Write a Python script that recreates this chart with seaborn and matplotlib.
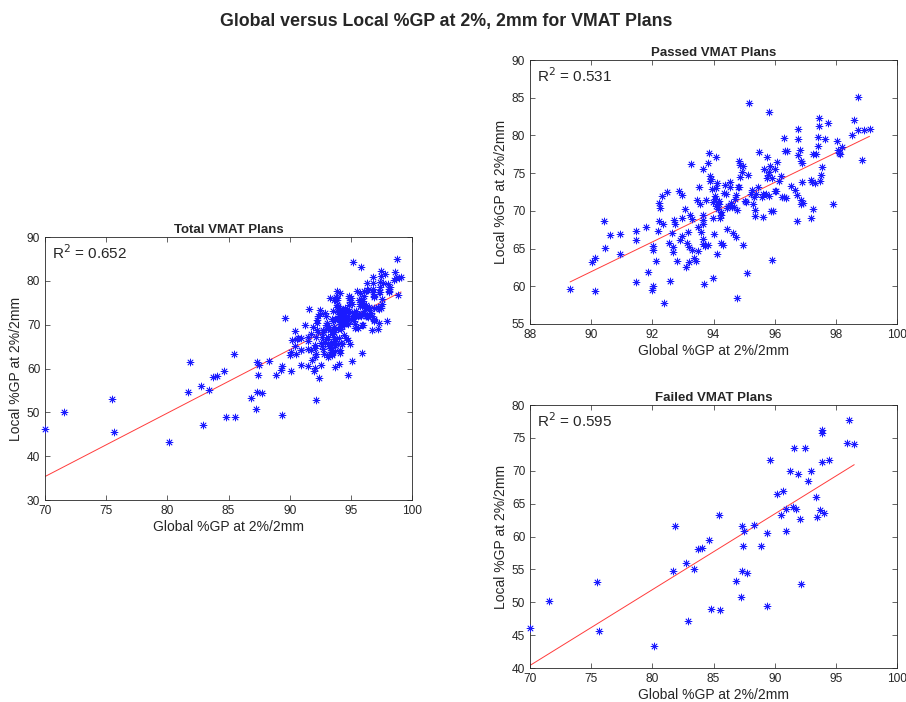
import numpy as np
import pandas as pd
import matplotlib
matplotlib.use("Agg")
import matplotlib.pyplot as plt
import seaborn as sns

# passed plans (global %GP, local %GP)
passed_global = [
    89.31, 90.04, 90.14, 90.14, 90.43, 90.44, 90.63, 90.95, 90.95, 91.48,
    91.48, 91.47, 91.78, 91.85, 91.98, 92.03, 92.03, 92.03, 92.12, 92.17,
    92.22, 92.22, 92.25, 92.32, 92.35, 92.49, 92.54, 92.57, 92.39, 92.63,
    92.66, 92.69, 92.72, 92.74, 92.80, 92.87, 92.96, 92.90, 92.96, 92.96,
    93.07, 93.09, 93.14, 93.19, 93.17, 93.19, 93.22, 93.28, 93.30, 93.31,
    93.35, 93.43, 93.48, 93.48, 93.45, 93.53, 93.56, 93.58, 93.65, 93.65,
    93.65, 93.64, 93.67, 93.66, 93.69, 93.74, 93.72, 93.82, 93.81, 93.86,
    93.87, 93.87, 93.91, 93.96, 93.98, 93.98, 93.99, 94.03, 94.04, 94.06,
    94.07, 94.08, 94.11, 94.11, 94.09, 94.15, 94.17, 94.19, 94.21, 94.23,
    94.23, 94.26, 94.30, 94.35, 94.38, 94.42, 94.45, 94.45, 94.48, 94.53,
    94.54, 94.57, 94.62, 94.63, 94.68, 94.70, 94.74, 94.75, 94.76, 94.78,
    94.80, 94.82, 94.84, 94.86, 94.87, 94.92, 94.95, 94.98, 95.03, 95.05,
    95.08, 95.13, 95.17, 95.22, 95.25, 95.28, 95.31, 95.35, 95.37, 95.40,
    95.44, 95.48, 95.57, 95.61, 95.63, 95.66, 95.71, 95.74, 95.75, 95.77,
    95.80, 95.81, 95.81, 95.85, 95.89, 95.90, 95.92, 95.96, 96.00, 96.02,
    96.05, 96.07, 96.14, 96.22, 96.25, 96.29, 96.30, 96.33, 96.36, 96.40,
    96.52, 96.65, 96.72, 96.74, 96.77, 96.77, 96.77, 96.83, 96.85, 96.85,
    96.87, 96.88, 96.90, 96.92, 97.44, 97.44, 97.41, 97.42, 97.35, 97.26,
    97.18, 97.23, 97.31, 97.26, 97.19, 97.48, 97.53, 97.56, 97.75, 97.65,
    97.92, 98.03, 98.08, 98.11, 98.19, 98.52, 98.59, 98.71, 98.74, 98.87,
    98.92, 99.10, 98.15,
]
passed_local = [
    59.6, 63.2, 63.8, 59.4, 68.6, 65.1, 66.8, 66.9, 64.3, 67.3,
    66.2, 60.6, 67.8, 61.9, 59.5, 60.1, 65.3, 64.8, 63.4, 67.3,
    68.7, 71.1, 70.4, 72.0, 68.3, 72.5, 65.8, 60.7, 57.8, 67.1,
    65.2, 64.5, 68.8, 68.3, 63.4, 72.6, 72.1, 66.1, 66.7, 69.0,
    70.3, 62.6, 65.7, 65.2, 67.2, 63.2, 69.5, 76.2, 68.9, 64.8,
    63.7, 63.4, 64.7, 67.9, 71.4, 73.1, 70.9, 67.2, 75.6, 69.5,
    68.8, 68.3, 66.3, 65.6, 60.3, 71.4, 65.3, 65.5, 76.3, 77.7,
    74.6, 74.0, 74.2, 72.9, 71.2, 69.0, 61.1, 66.9, 72.0, 71.6,
    70.6, 77.2, 73.7, 64.3, 73.0, 70.2, 70.9, 71.3, 69.1, 69.5,
    65.8, 69.8, 65.5, 72.4, 73.4, 72.2, 67.6, 70.4, 70.6, 73.1,
    73.8, 71.0, 70.5, 67.0, 70.5, 71.6, 72.1, 66.5, 58.5, 70.1,
    73.1, 76.6, 73.2, 76.1, 74.5, 75.1, 65.5, 76.0, 71.3, 71.2,
    61.8, 74.8, 84.3, 72.3, 72.8, 70.9, 71.9, 70.1, 69.3, 72.2,
    73.1, 77.8, 71.9, 69.2, 72.2, 75.6, 72.2, 77.2, 74.3, 74.7,
    75.1, 83.1, 72.0, 75.9, 70.0, 63.5, 74.4, 70.0, 75.5, 72.6,
    72.6, 76.5, 73.9, 74.6, 71.9, 79.6, 71.9, 78.0, 71.7, 78.0,
    73.3, 72.7, 72.1, 68.7, 79.5, 77.4, 80.8, 78.1, 71.4, 70.9,
    76.6, 73.8, 76.4, 71.0, 82.3, 81.2, 79.8, 78.6, 77.5, 77.5,
    74.1, 73.8, 73.7, 70.3, 69.0, 73.9, 74.8, 75.8, 81.6, 79.5,
    70.9, 79.3, 78.1, 77.7, 78.5, 80.1, 82.0, 80.7, 85.1, 76.8,
    80.7, 80.8, 77.5,
]

# failed plans
failed_global = [
    70.0, 71.58, 75.49, 75.6, 80.16, 81.71, 81.85, 82.77, 82.9, 83.4,
    83.72, 84.05, 84.6, 84.78, 85.49, 85.43, 87.35, 87.49, 87.43, 87.3,
    87.73, 86.83, 87.27, 88.3, 88.85, 89.34, 89.37, 89.62, 90.16, 90.66,
    90.49, 90.9, 90.96, 91.26, 91.53, 91.72, 91.58, 91.91, 92.08, 92.13,
    92.49, 92.76, 92.98, 93.39, 93.47, 93.72, 94.07, 93.88, 93.85, 93.88,
    94.4, 95.9, 96.5, 96.09,
]
failed_local = [
    46.1, 50.2, 53.1, 45.6, 43.3, 54.7, 61.6, 56.0, 47.2, 55.0,
    58.05, 58.3, 59.5, 49.0, 48.9, 63.3, 61.6, 60.9, 58.5, 54.7,
    54.4, 53.3, 50.8, 61.7, 58.5, 60.6, 49.4, 71.6, 66.5, 67.0,
    63.35, 64.2, 60.8, 69.9, 64.5, 64.2, 73.5, 69.5, 62.7, 52.8,
    73.4, 68.4, 70.0, 66.0, 63.0, 64.1, 63.6, 71.3, 76.2, 75.7,
    71.6, 74.3, 74.1, 77.7,
]

r2_total = "0.652"
r2_passed = "0.531"
r2_failed = "0.595"

x_label = "Global %GP at 2%/2mm"
y_label = "Local %GP at 2%/2mm"

passed = pd.DataFrame({"g": passed_global, "l": passed_local})
failed = pd.DataFrame({"g": failed_global, "l": failed_local})
total = pd.concat([passed, failed], ignore_index=True)

sns.set_style("ticks")
plt.rcParams["font.family"] = ["Liberation Sans", "DejaVu Sans"]
plt.rcParams.update({
    "xtick.direction": "in", "ytick.direction": "in",
    "xtick.top": True, "ytick.right": True,
    "xtick.major.size": 3.5, "ytick.major.size": 3.5,
    "xtick.major.width": 0.5, "ytick.major.width": 0.5,
    "xtick.labelsize": 8.6, "ytick.labelsize": 8.6,
    "xtick.color": "#262626", "ytick.color": "#262626",
    "axes.linewidth": 0.6, "axes.edgecolor": "#262626",
})

star = (8, 2, 0)


def panel(ax, df, title, r2, xlim, xticks, ylim, yticks):
    sns.scatterplot(data=df, x="g", y="l", ax=ax, marker=star, color="#1a1aff",
                    s=24, linewidth=0.6, clip_on=False, zorder=3)
    sns.regplot(data=df, x="g", y="l", ax=ax, scatter=False, ci=None,
                truncate=True, line_kws={"color": "#ff3b3b", "lw": 0.7})
    ax.set_xlim(*xlim)
    ax.set_ylim(*ylim)
    ax.set_xticks(xticks)
    ax.set_yticks(yticks)
    ax.set_xlabel(x_label, fontsize=10, labelpad=2)
    ax.set_ylabel(y_label, fontsize=10, labelpad=3)
    ax.set_title(title, fontsize=9.5, fontweight="bold", pad=3)
    ax.text(0.018, 0.915, "R$^2$ = " + r2, transform=ax.transAxes,
            fontsize=11, va="baseline", ha="left")
    for side in ["top", "right"]:
        ax.spines[side].set_visible(True)


fig = plt.figure(figsize=(9.06, 7.02), dpi=100)
ax_total = fig.add_axes([0.0497, 0.2877, 0.4051, 0.3746])
ax_pass = fig.add_axes([0.585, 0.5385, 0.4051, 0.376])
ax_fail = fig.add_axes([0.585, 0.0484, 0.4051, 0.3746])

panel(ax_total, total, "Total VMAT Plans", r2_total,
      (70, 100), range(70, 101, 5), (30, 90), range(30, 91, 10))
panel(ax_pass, passed, "Passed VMAT Plans", r2_passed,
      (88, 100), range(88, 101, 2), (55, 90), range(55, 91, 5))
panel(ax_fail, failed, "Failed VMAT Plans", r2_failed,
      (70, 100), range(70, 101, 5), (40, 80), range(40, 81, 5))

fig.text(0.493, 0.969, "Global versus Local %GP at 2%, 2mm for VMAT Plans",
         ha="center", va="center", fontsize=12.8, fontweight="bold")

fig.savefig("out.png", dpi=100)
